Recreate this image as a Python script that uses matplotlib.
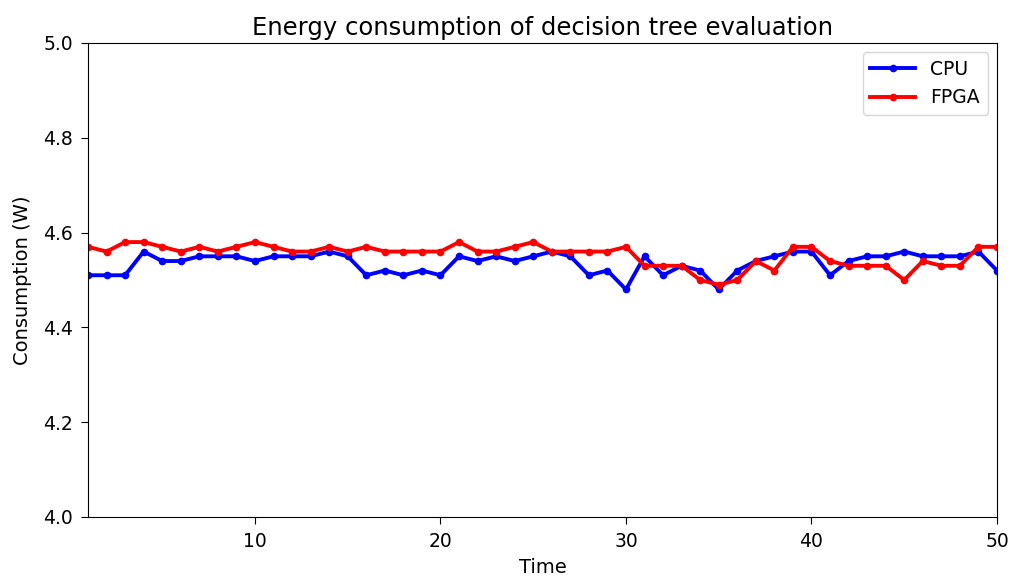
import matplotlib
matplotlib.use("Agg")
import matplotlib.pyplot as plt

time = list(range(1, 51))
cpu = [4.51, 4.51, 4.51, 4.56, 4.54, 4.54, 4.55, 4.55, 4.55, 4.54,
       4.55, 4.55, 4.55, 4.56, 4.55, 4.51, 4.52, 4.51, 4.52, 4.51,
       4.55, 4.54, 4.55, 4.54, 4.55, 4.56, 4.55, 4.51, 4.52, 4.48,
       4.55, 4.51, 4.53, 4.52, 4.48, 4.52, 4.54, 4.55, 4.56, 4.56,
       4.51, 4.54, 4.55, 4.55, 4.56, 4.55, 4.55, 4.55, 4.56, 4.52]
fpga = [4.57, 4.56, 4.58, 4.58, 4.57, 4.56, 4.57, 4.56, 4.57, 4.58,
        4.57, 4.56, 4.56, 4.57, 4.56, 4.57, 4.56, 4.56, 4.56, 4.56,
        4.58, 4.56, 4.56, 4.57, 4.58, 4.56, 4.56, 4.56, 4.56, 4.57,
        4.53, 4.53, 4.53, 4.50, 4.49, 4.50, 4.54, 4.52, 4.57, 4.57,
        4.54, 4.53, 4.53, 4.53, 4.50, 4.54, 4.53, 4.53, 4.57, 4.57]

fig = plt.figure(figsize=(10.11, 5.8), dpi=100)
ax = fig.add_axes([88/1011, 1 - 517/580, (997-88)/1011, (517-43)/580])
ax.plot(time, cpu, color='blue', marker='o', markersize=4.5, linewidth=2.8, label='CPU')
ax.plot(time, fpga, color='red', marker='o', markersize=4.5, linewidth=2.8, label='FPGA')
ax.set_xlim(1, 50)
ax.set_ylim(4.0, 5.0)
ax.set_xticks([10, 20, 30, 40, 50])
ax.set_yticks([4.0, 4.2, 4.4, 4.6, 4.8, 5.0])
ax.tick_params(labelsize=13.5, length=5, pad=6)
ax.set_xlabel('Time', fontsize=14, labelpad=5)
ax.set_ylabel('Consumption (W)', fontsize=14, labelpad=8)
ax.set_title('Energy consumption of decision tree evaluation', fontsize=17.5)
ax.legend(loc='upper right', fontsize=13.5, handlelength=2.4)
fig.savefig('out.png', dpi=100)
